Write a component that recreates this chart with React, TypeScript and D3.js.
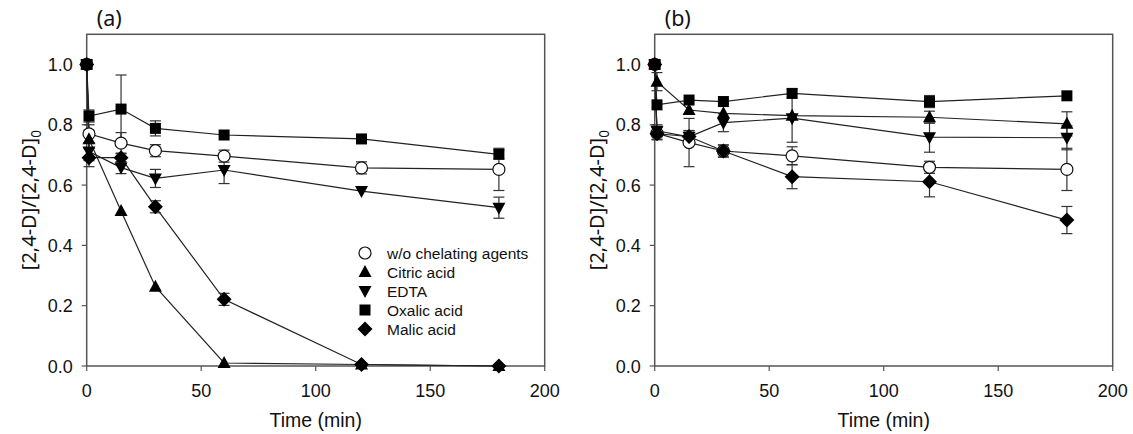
import React from "react";
import * as d3 from "d3";

const times = [0, 1, 15, 30, 60, 120, 180];
const seriesNames = ["w/o chelating agents", "Citric acid", "EDTA", "Oxalic acid", "Malic acid"];
const seriesShapes = ["circle", "triUp", "triDown", "square", "diamond"];

const woA = [1.0, 0.77, 0.739, 0.714, 0.696, 0.657, 0.652];
const woAErr = [0.01, 0.03, 0.035, 0.02, 0.02, 0.02, 0.07];
const citricA = [1.0, 0.752, 0.514, 0.263, 0.01, 0.005, 0.0];
const citricAErr = [0.01, 0.03, 0.01, 0.01, 0.005, 0.005, 0.005];
const edtaA = [1.0, 0.711, 0.658, 0.622, 0.65, 0.58, 0.525];
const edtaAErr = [0.01, 0.03, 0.02, 0.03, 0.045, 0.01, 0.035];
const oxalicA = [1.0, 0.829, 0.852, 0.788, 0.766, 0.753, 0.702];
const oxalicAErr = [0.01, 0.02, 0.113, 0.025, 0.01, 0.01, 0.015];
const malicA = [1.0, 0.691, 0.691, 0.528, 0.221, 0.005, 0.0];
const malicAErr = [0.01, 0.03, 0.015, 0.02, 0.02, 0.005, 0.005];

const woB = [1.0, 0.772, 0.741, 0.713, 0.697, 0.659, 0.652];
const woBErr = [0.01, 0.02, 0.08, 0.02, 0.03, 0.02, 0.07];
const citricB = [1.0, 0.943, 0.849, 0.838, 0.83, 0.825, 0.803];
const citricBErr = [0.01, 0.03, 0.01, 0.01, 0.01, 0.02, 0.04];
const edtaB = [1.0, 0.78, 0.76, 0.807, 0.822, 0.759, 0.757];
const edtaBErr = [0.01, 0.02, 0.02, 0.03, 0.08, 0.05, 0.04];
const oxalicB = [1.0, 0.866, 0.882, 0.877, 0.904, 0.877, 0.896];
const oxalicBErr = [0.01, 0.01, 0.01, 0.01, 0.015, 0.02, 0.01];
const malicB = [1.0, 0.77, 0.761, 0.713, 0.628, 0.611, 0.484];
const malicBErr = [0.01, 0.02, 0.02, 0.02, 0.04, 0.05, 0.045];

const xTicks = [0, 50, 100, 150, 200];
const yTicks = [0, 0.2, 0.4, 0.6, 0.8, 1.0];

const FONT = "'Liberation Sans', Arial, sans-serif";
const FONT2 = "'Noto Sans', 'Open Sans', sans-serif";

function Marker({ shape, x, y }: { shape: string; x: number; y: number }) {
  if (shape === "circle")
    return <circle cx={x} cy={y} r={6} fill="white" stroke="#111" strokeWidth={1.2} />;
  if (shape === "square")
    return <rect x={x - 5.5} y={y - 5.5} width={11} height={11} fill="#000" />;
  if (shape === "triUp")
    return <path d={`M${x},${y - 7}L${x + 6.5},${y + 5}L${x - 6.5},${y + 5}Z`} fill="#000" />;
  if (shape === "triDown")
    return <path d={`M${x},${y + 7}L${x + 6.5},${y - 5}L${x - 6.5},${y - 5}Z`} fill="#000" />;
  return <path d={`M${x},${y - 7.5}L${x + 7.5},${y}L${x},${y + 7.5}L${x - 7.5},${y}Z`} fill="#000" />;
}

function Panel({
  left,
  label,
  data,
  errs,
  legend,
}: {
  left: number;
  label: string;
  data: number[][];
  errs: number[][];
  legend: boolean;
}) {
  const x = d3.scaleLinear().domain([0, 200]).range([left, left + 458]);
  const y = d3.scaleLinear().domain([0, 1.1]).range([366, 34.3]);
  const line = d3
    .line<number>()
    .x((_, i) => x(times[i]))
    .y((d) => y(d));
  const axisColor = "#555";
  return (
    <g fontFamily={FONT}>
      <rect x={x(0)} y={y(1.1)} width={x(200) - x(0)} height={y(0) - y(1.1)} fill="none" stroke={axisColor} strokeWidth={1.5} />
      {xTicks.map((t) => (
        <g key={"x" + t}>
          <line x1={x(t)} x2={x(t)} y1={y(0)} y2={y(0) + 5} stroke={axisColor} strokeWidth={1.2} />
          <text x={x(t)} y={y(0) + 31} fontSize={18} textAnchor="middle" fill="#111">
            {t}
          </text>
        </g>
      ))}
      {yTicks.map((t) => (
        <g key={"y" + t}>
          <line x1={x(0) - 5} x2={x(0)} y1={y(t)} y2={y(t)} stroke={axisColor} strokeWidth={1.2} />
          <text x={x(0) - 14} y={y(t) + 6.5} fontSize={18} textAnchor="end" fill="#111">
            {t.toFixed(1)}
          </text>
        </g>
      ))}
      <text x={(x(0) + x(200)) / 2} y={427} fontSize={19.5} textAnchor="middle" fill="#111">
        Time (min)
      </text>
      <text
        transform={`translate(${x(0) - 51},${(y(0) + y(1.1)) / 2}) rotate(-90)`}
        fontSize={20}
        fontFamily={FONT2}
        textAnchor="middle"
        fill="#111"
      >
        [2,4-D]/[2,4-D]<tspan fontSize={13.5} dy={5}>0</tspan>
      </text>
      <text x={x(0) + 10} y={26} fontSize={21.5} fontFamily={FONT2} fill="#111">
        {label}
      </text>
      {data.map((s, k) => (
        <path key={"l" + k} d={line(s) || ""} fill="none" stroke="#222" strokeWidth={1.2} />
      ))}
      {data.map((s, k) =>
        s.map((v, i) => {
          const e = errs[k][i];
          if (e < 0.012) return null;
          const cx = x(times[i]);
          return (
            <g key={`e${k}-${i}`} stroke="#333" strokeWidth={1.2}>
              <line x1={cx} x2={cx} y1={y(v - e)} y2={y(v + e)} />
              <line x1={cx - 5.5} x2={cx + 5.5} y1={y(v - e)} y2={y(v - e)} />
              <line x1={cx - 5.5} x2={cx + 5.5} y1={y(v + e)} y2={y(v + e)} />
            </g>
          );
        })
      )}
      {data.map((s, k) =>
        s.map((v, i) => <Marker key={`m${k}-${i}`} shape={seriesShapes[k]} x={x(times[i])} y={y(v)} />)
      )}
      {legend &&
        seriesNames.map((n, k) => (
          <g key={"lg" + k}>
            <Marker shape={seriesShapes[k]} x={365} y={253 + k * 19} />
            <text x={387} y={253 + k * 19 + 5.5} fontSize={15.5} fill="#111">
              {n}
            </text>
          </g>
        ))}
    </g>
  );
}

export default function App() {
  return (
    <svg
      width={1133}
      height={434}
      style={{ position: "absolute", left: 0, top: 0, background: "white" }}
    >
      <rect width={1133} height={434} fill="white" />
      <Panel
        left={86.7}
        label="(a)"
        data={[woA, citricA, edtaA, oxalicA, malicA]}
        errs={[woAErr, citricAErr, edtaAErr, oxalicAErr, malicAErr]}
        legend={true}
      />
      <Panel
        left={654.7}
        label="(b)"
        data={[woB, citricB, edtaB, oxalicB, malicB]}
        errs={[woBErr, citricBErr, edtaBErr, oxalicBErr, malicBErr]}
        legend={false}
      />
    </svg>
  );
}
